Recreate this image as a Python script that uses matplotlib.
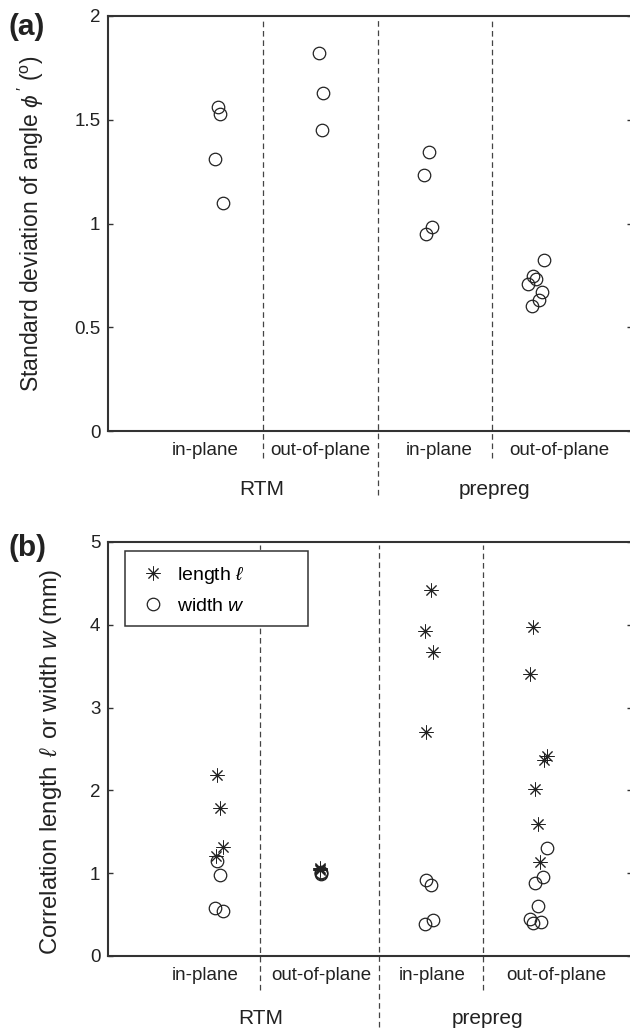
import numpy as np
import matplotlib
matplotlib.use("Agg")
import matplotlib.pyplot as plt
import matplotlib.transforms as mtrans
from matplotlib.patches import Rectangle

plt.rcParams["font.family"] = ["Liberation Sans", "DejaVu Sans"]
plt.rcParams["mathtext.fontset"] = "custom"
plt.rcParams["mathtext.rm"] = "Liberation Sans"
plt.rcParams["mathtext.it"] = "Liberation Sans:italic"
plt.rcParams["mathtext.fallback"] = "cm"

# ------------------------------------------------------------------
# Data (x = category index with the jitter seen in the figure)
# ------------------------------------------------------------------
categories = ["in-plane", "out-of-plane", "in-plane", "out-of-plane"]
groups = ["RTM", "prepreg"]

# (a) standard deviation of angle phi'
std_x = [1.11, 1.13, 1.08, 1.15,
         1.99, 2.03, 2.02,
         2.95, 2.91, 2.98, 2.93,
         3.96, 3.86, 3.89, 3.82, 3.94, 3.91, 3.85]
std_y = [1.56, 1.53, 1.31, 1.10,
         1.82, 1.63, 1.45,
         1.345, 1.234, 0.983, 0.949,
         0.824, 0.747, 0.731, 0.710, 0.671, 0.631, 0.604]

# (b) correlation length l
len_x = [1.10, 1.13, 1.15, 1.09,
         2.00, 2.00, 2.00,
         2.97, 2.92, 2.99, 2.93,
         3.86, 3.83, 3.98, 3.96, 3.88, 3.90, 3.92]
len_y = [2.18, 1.79, 1.32, 1.21,
         1.04, 1.05, 1.06,
         4.42, 3.93, 3.67, 2.70,
         3.97, 3.41, 2.42, 2.37, 2.02, 1.59, 1.13]

# (b) correlation width w
wid_x = [1.10, 1.13, 1.08, 1.15,
         2.01, 2.01, 2.01,
         2.93, 2.97, 2.92, 2.99,
         3.98, 3.95, 3.88, 3.90, 3.83, 3.86, 3.93]
wid_y = [1.15, 0.975, 0.584, 0.543,
         0.99, 1.00, 1.01,
         0.918, 0.861, 0.386, 0.435,
         1.308, 0.958, 0.886, 0.604, 0.447, 0.395, 0.415]

yticks_a = [0, 0.5, 1, 1.5, 2]
yticklabels_a = ["0", "0.5", "1", "1.5", "2"]
yticks_b = [0, 1, 2, 3, 4, 5]
yticklabels_b = ["0", "1", "2", "3", "4", "5"]

# ------------------------------------------------------------------
# Layout
# ------------------------------------------------------------------
W, H = 630, 1031
INK = "#222222"
SPINE = "#333333"
XLIM = (0.15, 4.72)


def fx(px):
    return px / W


def fy(py):
    return 1 - py / H


def style_axes(ax, ylim, ticks, labels):
    ax.set_xlim(*XLIM)
    ax.set_ylim(*ylim)
    ax.set_xticks([])
    ax.set_yticks(ticks)
    ax.set_yticklabels(labels)
    ax.tick_params(axis="y", direction="in", right=True, length=3.6,
                   width=1.0, labelsize=13.5, pad=5.5, colors=SPINE,
                   labelcolor="#222222")
    for side in ["left", "bottom", "top", "right"]:
        ax.spines[side].set_linewidth(1.5)
        ax.spines[side].set_color(SPINE)


def draw_dividers(ax, xs, outer_bottom, middle_bottom):
    trans = mtrans.blended_transform_factory(ax.transData, ax.transAxes)
    for i, x in enumerate(xs):
        y0 = middle_bottom if i == 1 else outer_bottom
        ax.plot([x, x], [y0, 0.993], transform=trans, clip_on=False,
                color="#444444", lw=0.9, linestyle=(0, (4.5, 3.0)), zorder=1)


def draw_labels(ax, cat_pos, grp_pos, cat_y, grp_y):
    trans = mtrans.blended_transform_factory(ax.transData, ax.transAxes)
    for x, lab in zip(cat_pos, categories):
        ax.text(x, cat_y, lab, transform=trans, ha="center", va="center",
                fontsize=13.5, color="#222222")
    for x, lab in zip(grp_pos, groups):
        ax.text(x, grp_y, lab, transform=trans, ha="center", va="center",
                fontsize=15, color="#222222")


fig = plt.figure(figsize=(W / 100, H / 100), dpi=100)
left = fx(108)
width = fx(631.5) - left

# ---------------- panel (a) ----------------
ax1 = fig.add_axes([left, fy(431), width, fy(16) - fy(431)])
style_axes(ax1, (0, 2), yticks_a, yticklabels_a)
ax1.plot(std_x, std_y, linestyle="none", marker="o", markersize=9,
         markerfacecolor="none", markeredgecolor=INK, markeredgewidth=0.9,
         zorder=3)
draw_dividers(ax1, [1.5, 2.51, 3.5], -0.065, -0.155)
draw_labels(ax1, [1.0, 2.0, 3.04, 4.09], [1.49, 3.52], -0.048, -0.142)
ax1.set_ylabel(r"Standard deviation of angle $\phi\,'$ ($^{\mathrm{o}}$)",
               fontsize=16.5, color="#222222")
ax1.yaxis.set_label_coords(-0.119, 0.5)

# ---------------- panel (b) ----------------
ax2 = fig.add_axes([left, fy(956), width, fy(542) - fy(956)])
style_axes(ax2, (0, 5), yticks_b, yticklabels_b)
ax2.plot(len_x, len_y, linestyle="none", marker=(8, 2, 0), markersize=10,
         markeredgecolor=INK, markeredgewidth=0.7, zorder=3,
         label=r"length $\ell$")
ax2.plot(wid_x, wid_y, linestyle="none", marker="o", markersize=9,
         markerfacecolor="none", markeredgecolor=INK, markeredgewidth=0.9,
         zorder=3, label=r"width $w$")
draw_dividers(ax2, [1.48, 2.52, 3.42], -0.082, -0.172)
draw_labels(ax2, [1.0, 2.01, 2.98, 4.06], [1.48, 3.46], -0.048, -0.150)
ax2.set_ylabel(r"Correlation length $\,\ell\,$ or width $w$ (mm)",
               fontsize=17.2, color="#222222")
ax2.yaxis.set_label_coords(-0.084, 0.469)

# legend box drawn by hand so it can be as wide as in the original
box = Rectangle(((125 - 108) / 522, (956 - 626) / 414), 182 / 522, 75 / 414,
                transform=ax2.transAxes, facecolor="white",
                edgecolor=SPINE, linewidth=1.1, zorder=4)
ax2.add_patch(box)
leg = ax2.legend(loc="center left",
                 bbox_to_anchor=((141 - 108) / 522, (956 - 590) / 414),
                 frameon=False, fontsize=14, borderaxespad=0, borderpad=0,
                 handlelength=1.2, handletextpad=0.65, labelspacing=0.6)
leg.set_zorder(5)

# panel letters
fig.text(fx(8), fy(27), "(a)", fontsize=21.5, fontweight="bold",
         ha="left", va="center", color="#222222")
fig.text(fx(8), fy(548), "(b)", fontsize=21.5, fontweight="bold",
         ha="left", va="center", color="#222222")

fig.savefig("out.png", dpi=100)
